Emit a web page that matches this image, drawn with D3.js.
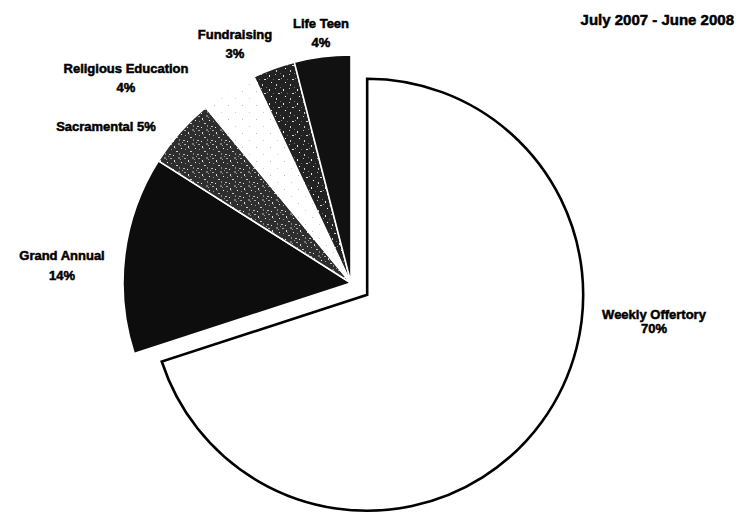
<!DOCTYPE html>
<html>
<head>
<meta charset="utf-8">
<script src="https://cdn.jsdelivr.net/npm/d3@7"></script>
<style>
  html, body { margin: 0; padding: 0; background: #fff; }
  svg { display: block; font-family: "Liberation Sans", Arial, sans-serif; }
</style>
</head>
<body>
<div id="chart"></div>
<script>
// Income sources, clockwise from 12 o'clock
const categories = ['Weekly Offertory', 'Grand Annual', 'Sacramental', 'Religious Education', 'Fundraising', 'Life Teen'];
const shares = [70, 14, 5, 4, 3, 4];
const shareLabels = ['70%', '14%', '5%', '4%', '3%', '4%'];
const title = 'July 2007 - June 2008';

const width = 749, height = 514;
const cx = 351, cy = 283;       // centre of the unexploded slices
const r = 228;
const weeklyR = 216;
const explode = 20;             // offset of the weekly slice along its bisector

// fill per slice (speckled ones use patterns defined below)
const fills = ['#fff', '#0d0d0d', 'url(#speckA)', 'url(#dotsW)', 'url(#speckB)', '#111'];

// label placement: [x, y of first baseline, gap to 2nd line]; null = single line
const labelLayout = [
  {x: 654, y: 319, gap: 14},
  {x: 62,  y: 260, gap: 20},
  {x: 106, y: 131, gap: null},
  {x: 126, y: 73,  gap: 19},
  {x: 235, y: 39,  gap: 19},
  {x: 321, y: 28,  gap: 19}
];

const svg = d3.select('#chart').append('svg')
  .attr('width', width)
  .attr('height', height);

const defs = svg.append('defs');

// mottled dark grey texture
function speckle(id, bg, spots) {
  const p = defs.append('pattern')
    .attr('id', id)
    .attr('patternUnits', 'userSpaceOnUse')
    .attr('width', 14).attr('height', 14);
  p.append('rect').attr('width', 14).attr('height', 14).attr('fill', bg);
  spots.forEach(s => {
    p.append('rect')
      .attr('x', s[0]).attr('y', s[1])
      .attr('width', s[2]).attr('height', s[3])
      .attr('fill', s[4]);
  });
}
speckle('speckA', '#2e2e2e', [
  [1, 1, 2, 1, '#aaa'], [5, 3, 1, 2, '#ddd'], [9, 0, 2, 2, '#777'], [12, 5, 1, 1, '#eee'],
  [2, 6, 1, 1, '#999'], [7, 8, 2, 1, '#ccc'], [10, 10, 1, 2, '#888'], [0, 11, 2, 1, '#bbb'],
  [4, 12, 1, 1, '#eee'], [13, 13, 1, 1, '#999'], [6, 5, 1, 1, '#666'], [11, 2, 1, 1, '#999']
]);
speckle('speckB', '#222', [
  [2, 2, 1, 2, '#eee'], [8, 1, 1, 1, '#bbb'], [11, 6, 2, 1, '#ddd'], [4, 9, 1, 1, '#fff'],
  [0, 5, 1, 1, '#888'], [9, 11, 1, 2, '#ccc'], [13, 0, 1, 1, '#777'], [6, 6, 1, 1, '#666']
]);
speckle('dotsW', '#fff', [
  [3, 4, 1, 1, '#bbb'], [10, 11, 1, 1, '#ccc']
]);

const pie = d3.pie().sort(null).value(d => d).startAngle(0).endAngle(2 * Math.PI);
const arcs = pie(shares);

const arcMain = d3.arc().innerRadius(0).outerRadius(r);
const arcWeekly = d3.arc().innerRadius(0).outerRadius(weeklyR);

// small slices
svg.append('g')
  .attr('transform', `translate(${cx},${cy})`)
  .selectAll('path')
  .data(arcs.slice(1))
  .join('path')
  .attr('d', arcMain)
  .attr('fill', (d, i) => fills[i + 1])
  .attr('stroke', '#fff')
  .attr('stroke-width', 1.6)
  .attr('stroke-linejoin', 'round');

// exploded weekly offertory slice
const w = arcs[0];
const mid = (w.startAngle + w.endAngle) / 2;
const ox = cx + explode * Math.sin(mid);
const oy = cy - explode * Math.cos(mid);
svg.append('path')
  .datum(w)
  .attr('transform', `translate(${ox},${oy})`)
  .attr('d', arcWeekly)
  .attr('fill', fills[0])
  .attr('stroke', '#000')
  .attr('stroke-width', 2.6)
  .attr('stroke-linejoin', 'miter');

// labels (scan looks heavy, so thicken a little)
const lab = svg.append('g')
  .attr('font-weight', 'bold')
  .attr('font-size', 13)
  .attr('fill', '#000')
  .attr('stroke', '#000')
  .attr('stroke-width', 0.5)
  .attr('text-anchor', 'middle');

categories.forEach((name, i) => {
  const L = labelLayout[i];
  const t = lab.append('text').attr('x', L.x).attr('y', L.y);
  if (L.gap === null) {
    t.text(name + ' ' + shareLabels[i]);
  } else {
    t.append('tspan').attr('x', L.x).text(name);
    t.append('tspan').attr('x', L.x).attr('dy', L.gap).text(shareLabels[i]);
  }
});

svg.append('text')
  .attr('x', 734)
  .attr('y', 25)
  .attr('text-anchor', 'end')
  .attr('font-weight', 'bold')
  .attr('font-size', 15)
  .attr('stroke', '#000')
  .attr('stroke-width', 0.5)
  .text(title);
</script>
</body>
</html>
